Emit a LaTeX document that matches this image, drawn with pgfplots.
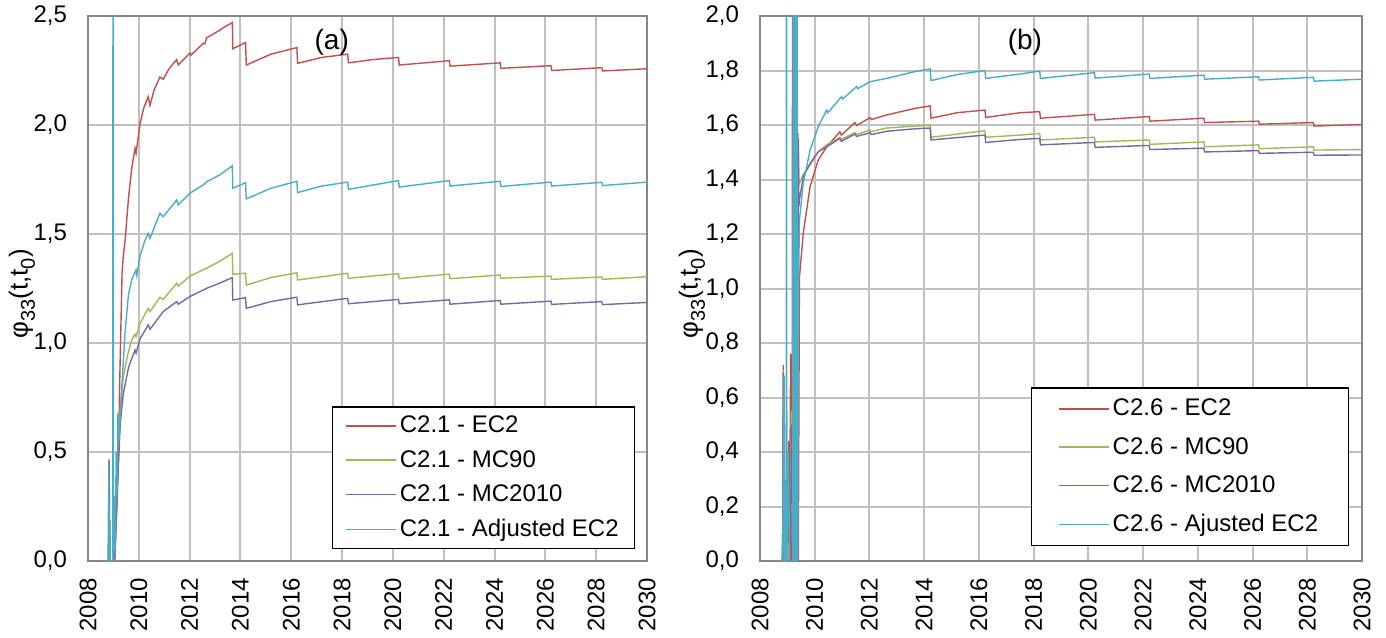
\documentclass[border=0pt]{standalone}
\usepackage{fontspec}
\setmainfont{Liberation Sans}
\usepackage{pgfplots}
\pgfplotsset{compat=1.18}

\definecolor{sred}{HTML}{C0504D}
\definecolor{sgreen}{HTML}{9BBB59}
\definecolor{spurple}{HTML}{8064A2}
\definecolor{scyan}{HTML}{4BACC6}
\definecolor{gridgray}{HTML}{C0C0C0}
\definecolor{framegray}{HTML}{868686}

\newcommand{\sub}[1]{\raisebox{-0.28em}{\fontsize{10}{12}\selectfont #1}}

\pgfplotsset{
  panel/.style={
    scale only axis,
    height=272.5pt,
    xmin=2008, xmax=2030,
    xtick={2008,2010,2012,2014,2016,2018,2020,2022,2024,2026,2028,2030},
    ymin=0,
    grid=major,
    major grid style={draw=gridgray, line width=1pt},
    axis line style={draw=framegray, line width=1.2pt},
    major tick length=0pt,
    tick label style={font=\fontsize{12}{14}\selectfont},
    label style={font=\fontsize{13}{15}\selectfont},
    /pgf/number format/assume math mode=true,
    x tick label style={rotate=90, anchor=east, /pgf/number format/1000 sep={}},
    xticklabel shift=5pt,
    y tick label style={/pgf/number format/.cd, fixed, fixed zerofill, precision=1, use comma},
    yticklabel shift=7pt,
    ylabel={φ\sub{33}(t,t\sub{0})},
    legend cell align=left,
    legend image code/.code={\draw[#1] (0pt,0pt) -- (25pt,0pt);},
    every axis plot/.append style={line width=0.7pt, mark=none},
  },
  lg/.style={
    legend style={
      draw=black, line width=0.6pt, fill=white,
      font=\fontsize{12}{14}\selectfont,
      nodes={inner xsep=1.5pt, inner ysep=1.5pt},
      column sep=0pt,
    },
  },
}

\begin{document}
\begin{tikzpicture}
\path[use as bounding box] (-44pt,-38pt) rectangle (649pt,280.5pt);

% ---------------- (a) C2.1 ----------------
\begin{axis}[panel, lg,
  at={(0pt,0pt)}, anchor=south west,
  width=279.5pt,
  ymax=2.5, ytick={0,0.5,1,1.5,2,2.5},
  ylabel style={at={(rel axis cs:0,0.49)}, anchor=center, yshift=33pt},
  legend style={at={(0.979,0.022)}, anchor=south east,
    inner xsep=6.5pt, inner ysep=3pt, row sep=4.3pt},
]
\addplot[sred] coordinates {
(2008.80,0)(2009.05,0)(2009.10,0.14)(2009.15,0.30)(2009.20,0.48)(2009.24,0.78)
(2009.27,0.94)(2009.34,1.32)(2009.39,1.40)(2009.46,1.47)(2009.59,1.66)(2009.72,1.80)
(2009.85,1.893)(2009.89,1.870)(2010.05,2.008)(2010.20,2.08)(2010.37,2.13)(2010.44,2.09)
(2010.60,2.16)(2010.83,2.22)(2010.96,2.21)(2011.20,2.26)(2011.49,2.30)(2011.55,2.275)
(2012.01,2.33)(2012.05,2.32)(2012.54,2.375)(2012.60,2.372)(2012.67,2.40)(2013.19,2.435)
(2013.30,2.445)(2013.68,2.47)(2013.70,2.35)(2014.20,2.378)(2014.23,2.275)(2015.20,2.325)
(2016.22,2.355)(2016.25,2.283)(2017.20,2.31)(2018.22,2.325)(2018.25,2.285)(2019.20,2.30)
(2020.22,2.31)(2020.25,2.275)(2022.22,2.295)(2022.25,2.27)(2024.22,2.285)(2024.25,2.26)
(2026.22,2.272)(2026.25,2.25)(2028.22,2.263)(2028.25,2.248)(2030,2.258)
};
\addlegendentry{C2.1 - EC2}
\addplot[sgreen] coordinates {
(2008.80,0)(2008.83,0.47)(2008.86,0)(2009.05,0)(2009.12,0.25)(2009.20,0.50)(2009.27,0.70)
(2009.39,0.845)(2009.55,0.94)(2009.72,1.014)(2009.85,1.04)(2009.89,1.029)(2010.05,1.09)
(2010.37,1.159)(2010.44,1.144)(2010.83,1.21)(2010.96,1.20)(2011.49,1.274)(2011.55,1.26)
(2012.01,1.307)(2012.67,1.343)(2013.19,1.375)(2013.68,1.411)(2013.70,1.315)(2014.20,1.32)
(2014.23,1.266)(2015.20,1.30)(2016.22,1.322)(2016.25,1.289)(2018.22,1.32)(2018.25,1.297)
(2020.22,1.318)(2020.25,1.295)(2022.22,1.316)(2022.25,1.295)(2024.22,1.312)(2024.25,1.297)
(2026.22,1.307)(2026.25,1.292)(2028.22,1.303)(2028.25,1.292)(2030,1.304)
};
\addlegendentry{C2.1 - MC90}
\addplot[spurple] coordinates {
(2008.80,0)(2008.83,0.46)(2008.86,0)(2009.05,0)(2009.12,0.22)(2009.20,0.45)(2009.27,0.63)
(2009.39,0.769)(2009.60,0.89)(2009.85,0.968)(2009.89,0.953)(2010.05,1.02)(2010.37,1.083)
(2010.44,1.063)(2010.96,1.144)(2011.49,1.19)(2011.55,1.178)(2012.01,1.213)(2012.67,1.251)
(2013.19,1.275)(2013.68,1.30)(2013.70,1.197)(2014.20,1.208)(2014.23,1.159)(2015.20,1.19)
(2016.22,1.21)(2016.25,1.175)(2018.22,1.205)(2018.25,1.18)(2020.22,1.20)(2020.25,1.18)
(2022.22,1.198)(2022.25,1.178)(2024.22,1.195)(2024.25,1.178)(2026.22,1.192)(2026.25,1.177)
(2028.22,1.19)(2028.25,1.176)(2030,1.186)
};
\addlegendentry{C2.1 - MC2010}
\addplot[scyan] coordinates {
(2008.80,0)(2008.82,0.44)(2008.84,0)(2008.86,0.19)(2008.88,0)(2008.98,0)(2008.985,6)
(2008.99,0)(2008.995,6)(2009.00,0)(2009.04,0.30)(2009.07,0.05)(2009.11,0.50)(2009.14,0.30)
(2009.18,0.68)(2009.22,0.55)(2009.30,0.74)(2009.46,1.05)(2009.59,1.22)(2009.72,1.29)
(2009.89,1.335)(2009.92,1.31)(2010.05,1.40)(2010.24,1.47)(2010.37,1.503)(2010.44,1.48)
(2010.83,1.595)(2010.96,1.579)(2011.49,1.656)(2011.55,1.633)(2012.01,1.687)(2012.54,1.725)
(2012.67,1.74)(2013.19,1.771)(2013.68,1.813)(2013.70,1.71)(2014.20,1.735)(2014.23,1.661)
(2015.20,1.71)(2016.22,1.742)(2016.25,1.69)(2017.20,1.72)(2018.22,1.738)(2018.25,1.705)
(2020.22,1.745)(2020.25,1.715)(2022.22,1.745)(2022.25,1.72)(2024.22,1.742)(2024.25,1.718)
(2026.22,1.738)(2026.25,1.72)(2028.22,1.737)(2028.25,1.722)(2030,1.738)
};
\addlegendentry{C2.1 - Adjusted EC2}
\node[font=\fontsize{14}{17}\selectfont] at (rel axis cs:0.436,0.952) {(a)};
\end{axis}

% ---------------- (b) C2.6 ----------------
\begin{axis}[panel, lg,
  at={(336pt,0pt)}, anchor=south west,
  width=301pt,
  ymax=2, ytick={0,0.2,0.4,0.6,0.8,1,1.2,1.4,1.6,1.8,2},
  ylabel style={at={(rel axis cs:0,0.49)}, anchor=center, yshift=34pt},
  legend style={at={(0.978,0.0275)}, anchor=south east,
    inner xsep=13.5pt, inner ysep=4pt, row sep=6.3pt},
]
\addplot[sred] coordinates {
(2008.80,0)(2008.84,0)(2008.85,0.72)(2008.88,0)(2009.02,0)(2009.05,0.44)(2009.08,0.10)
(2009.12,0.76)(2009.15,0)(2009.18,0)(2009.19,3)(2009.21,0)(2009.40,0)(2009.44,1.04)
(2009.58,1.202)(2009.83,1.374)(2010.13,1.472)(2010.44,1.52)(2010.92,1.575)(2010.97,1.563)
(2011.47,1.609)(2011.53,1.598)(2012.02,1.627)(2012.07,1.62)(2012.63,1.637)(2013.66,1.661)
(2014.22,1.67)(2014.25,1.625)(2015.20,1.645)(2016.22,1.655)(2016.25,1.628)(2017.50,1.645)
(2018.22,1.649)(2018.25,1.625)(2020.22,1.639)(2020.25,1.618)(2022.22,1.631)(2022.25,1.614)
(2024.22,1.625)(2024.25,1.609)(2026.22,1.614)(2026.25,1.603)(2028.22,1.609)(2028.25,1.596)
(2030,1.602)
};
\addlegendentry{C2.6 - EC2}
\addplot[sgreen] coordinates {
(2008.80,0)(2008.84,0)(2008.85,0.70)(2008.88,0)(2009.10,0)(2009.15,0.55)(2009.20,0)
(2009.22,1.45)(2009.23,1.57)(2009.25,0)(2009.38,0)(2009.40,1.57)(2009.42,1.38)(2009.58,1.42)
(2009.83,1.453)(2010.13,1.502)(2010.44,1.528)(2010.92,1.555)(2010.97,1.547)(2011.47,1.572)
(2011.53,1.565)(2012.02,1.582)(2012.07,1.576)(2012.63,1.589)(2013.66,1.596)(2014.22,1.599)
(2014.25,1.555)(2016.22,1.579)(2016.25,1.555)(2017.50,1.563)(2018.22,1.569)(2018.25,1.545)
(2020.22,1.555)(2020.25,1.538)(2022.22,1.545)(2022.25,1.529)(2024.22,1.538)(2024.25,1.52)
(2026.22,1.527)(2026.25,1.513)(2028.22,1.52)(2028.25,1.508)(2030,1.51)
};
\addlegendentry{C2.6 - MC90}
\addplot[spurple] coordinates {
(2008.80,0)(2008.84,0)(2008.85,0.69)(2008.88,0)(2009.10,0)(2009.16,0.50)(2009.22,0)
(2009.38,0)(2009.40,1.55)(2009.42,1.30)(2009.44,1.325)(2009.58,1.41)(2009.83,1.459)
(2010.13,1.502)(2010.44,1.52)(2010.92,1.551)(2010.97,1.54)(2011.47,1.567)(2011.53,1.558)
(2012.02,1.572)(2012.07,1.565)(2012.63,1.577)(2013.66,1.586)(2014.22,1.589)(2014.25,1.545)
(2016.22,1.563)(2016.25,1.536)(2017.50,1.547)(2018.22,1.551)(2018.25,1.527)(2020.22,1.536)
(2020.25,1.518)(2022.22,1.525)(2022.25,1.51)(2024.22,1.515)(2024.25,1.501)(2026.22,1.506)
(2026.25,1.496)(2028.22,1.50)(2028.25,1.489)(2030,1.49)
};
\addlegendentry{C2.6 - MC2010}
\addplot[scyan] coordinates {
(2008.80,0)(2008.82,0.10)(2008.84,0)(2008.88,0.68)(2008.91,0)(2008.96,0)(2008.965,3)
(2008.97,0)(2008.975,3)(2008.98,0)(2009.04,0.40)(2009.08,0)(2009.20,0)(2009.21,3)(2009.23,0)
(2009.27,0)(2009.28,3)(2009.30,0)(2009.34,0)(2009.35,3)(2009.37,0)(2009.42,1.10)(2009.44,1.251)
(2009.58,1.386)(2009.83,1.508)(2010.13,1.594)(2010.44,1.655)(2010.48,1.645)(2010.98,1.704)
(2011.02,1.695)(2011.53,1.741)(2011.57,1.733)(2012.02,1.759)(2012.63,1.771)(2013.66,1.796)
(2014.22,1.806)(2014.25,1.763)(2015.20,1.785)(2016.22,1.80)(2016.25,1.771)(2017.50,1.787)
(2018.22,1.798)(2018.25,1.771)(2020.22,1.792)(2020.25,1.772)(2022.22,1.787)(2022.25,1.771)
(2024.22,1.783)(2024.25,1.768)(2026.22,1.777)(2026.25,1.765)(2028.22,1.775)(2028.25,1.761)
(2030,1.768)
};
\addlegendentry{C2.6 - Ajusted EC2}
\node[font=\fontsize{14}{17}\selectfont] at (rel axis cs:0.44,0.952) {(b)};
\end{axis}
\end{tikzpicture}
\end{document}
